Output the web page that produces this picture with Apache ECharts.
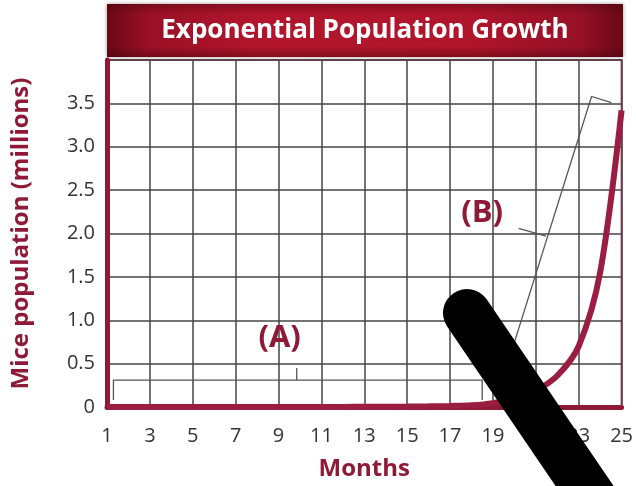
<!DOCTYPE html>
<html><head><meta charset="utf-8">
<script src="https://cdn.jsdelivr.net/npm/echarts@6/dist/echarts.min.js"></script>
<style>html,body{margin:0;padding:0;background:#fff}#c{width:636px;height:486px}</style>
</head><body><div id="c"></div>
<script>
const chartTitle = 'Exponential Population Growth';
const xAxisTitle = 'Months';
const yAxisTitle = 'Mice population (millions)';
const months = [1,2,3,4,5,6,7,8,9,10,11,12,13,14,15,16,17,18,19,20,21,22,23,24,25];
const population = [0,0,0,0,0,0,0,0,0,0,0,0.001,0.002,0.003,0.005,0.008,0.012,0.02,0.045,0.1,0.19,0.36,0.7,1.55,3.42];
const xTickValues = [1,3,5,7,9,11,13,15,17,19,21,23,25];
const yTickLabels = ['0','0.5','1.0','1.5','2.0','2.5','3.0','3.5'];
// annotation anchors, in data coordinates [month, millions]
const bracketA = [[1.3,0.08],[1.3,0.31],[18.5,0.31],[18.5,0.08]];
const bracketATick = [[9.85,0.31],[9.85,0.45]];
const labelA = [9.05,0.79];
const labelB = [18.5,2.23];
const pointerB = [[20.2,2.06],[21.47,1.97]];
const leaderB = [[19.74,0.54],[23.6,3.58],[24.53,3.51]];

const maroon = '#8e1a38';
const chart = echarts.init(document.getElementById('c'));
chart.setOption({
  animation:false,
  backgroundColor:'#fff',
  grid:{left:107,right:14,top:60,bottom:79,show:true,borderColor:'#c0406a',borderWidth:2,backgroundColor:'#fff'},
  xAxis:{type:'value',min:1,max:25,interval:2,
    name:xAxisTitle,nameLocation:'middle',nameGap:50,
    nameTextStyle:{color:maroon,fontSize:24,fontWeight:'bold',fontFamily:'Open Sans'},
    axisLine:{show:true,lineStyle:{color:maroon,width:5}},
    axisTick:{show:false},
    axisLabel:{color:'#333',fontSize:20,fontFamily:'Open Sans',margin:19,
      formatter:v=>xTickValues.indexOf(v)>=0?String(v):''},
    splitLine:{show:true,lineStyle:{color:'#444',width:1.5}}},
  yAxis:{type:'value',min:0,max:4,interval:0.5,
    name:yAxisTitle,nameLocation:'middle',nameGap:74,
    nameTextStyle:{color:maroon,fontSize:24,fontWeight:'bold',fontFamily:'Open Sans'},
    axisLine:{show:true,lineStyle:{color:maroon,width:5}},
    axisTick:{show:false},
    axisLabel:{color:'#333',fontSize:20,fontFamily:'Open Sans',margin:12,
      formatter:v=>{const i=Math.round(v/0.5);return i<yTickLabels.length?yTickLabels[i]:'';}},
    splitLine:{show:true,lineStyle:{color:'#444',width:1.5}}},
  series:[{type:'line',smooth:0.3,showSymbol:false,z:5,
    lineStyle:{color:'#9b1d42',width:6},
    data:months.map((m,i)=>[m,population[i]])}]
});

function px(p){return chart.convertToPixel({gridIndex:0},p);}
const grayLine={stroke:'#555',lineWidth:1.3,fill:null};
chart.setOption({graphic:[
  {type:'rect',shape:{x:107,y:4,width:516,height:53},z:10,
    style:{fill:new echarts.graphic.LinearGradient(0,0,1,0,[{offset:0,color:'#6a0816'},{offset:0.08,color:'#9a1026'},{offset:0.3,color:'#b3162c'},{offset:0.7,color:'#b0152b'},{offset:0.92,color:'#961027'},{offset:1,color:'#6a0816'}]),
      shadowBlur:4,shadowColor:'rgba(0,0,0,0.4)'}},
  {type:'rect',shape:{x:107,y:4,width:516,height:53},z:10,
    style:{fill:new echarts.graphic.LinearGradient(0,0,0,1,[{offset:0,color:'rgba(60,0,10,0.35)'},{offset:0.2,color:'rgba(60,0,10,0)'},{offset:0.8,color:'rgba(60,0,10,0)'},{offset:1,color:'rgba(60,0,10,0.4)'}])}},
  {type:'text',x:365,y:31,z:11,style:{text:chartTitle,fill:'#fff',font:'bold 26px "Open Sans"',align:'center',verticalAlign:'middle'}},
  {type:'polyline',shape:{points:bracketA.map(px)},style:grayLine,z:6},
  {type:'polyline',shape:{points:bracketATick.map(px)},style:grayLine,z:6},
  {type:'polyline',shape:{points:pointerB.map(px)},style:grayLine,z:6},
  {type:'polyline',shape:{points:leaderB.map(px)},style:grayLine,z:6},
  {type:'text',x:px(labelA)[0],y:px(labelA)[1],z:7,style:{text:'(A)',fill:maroon,font:'bold 31px "Open Sans"',align:'center',verticalAlign:'middle'}},
  {type:'text',x:px(labelB)[0],y:px(labelB)[1],z:7,style:{text:'(B)',fill:maroon,font:'bold 31px "Open Sans"',align:'center',verticalAlign:'middle'}},
  {type:'polyline',shape:{points:[[467,313],[605,516]]},z:20,style:{stroke:'#000',lineWidth:48,lineCap:'round',fill:null}}
]});
</script></body></html>
